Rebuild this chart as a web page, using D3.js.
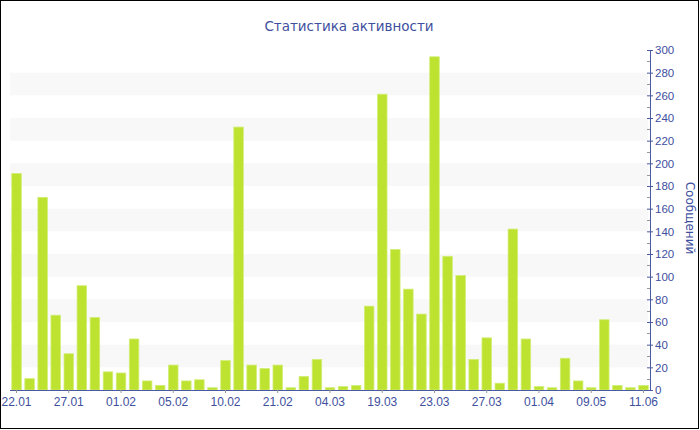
<!DOCTYPE html>
<html>
<head>
<meta charset="utf-8">
<script src="https://cdn.jsdelivr.net/npm/d3@7"></script>
<style>
  body { margin: 0; background: #fff; }
  svg { display: block; font-family: "DejaVu Sans", Verdana, sans-serif; }
</style>
</head>
<body>
<svg id="chart" width="700" height="430"></svg>
<script>
const title = "Статистика активности";
const yTitle = "Сообщений";
const values = [191, 10, 170, 66, 32, 92, 64, 16, 15, 45, 8, 4, 22, 8, 9, 2, 26, 232, 22, 19, 22, 2, 12, 27, 2, 3, 4, 74, 261, 124, 89, 67, 294, 118, 101, 27, 46, 6, 142, 45, 3, 2, 28, 8, 2, 62, 4, 2, 4];
const tickLabels = ["22.01", "27.01", "01.02", "05.02", "10.02", "21.02", "04.03", "19.03", "23.03", "27.03", "01.04", "09.05", "11.06"];
const yTicks = [0, 20, 40, 60, 80, 100, 120, 140, 160, 180, 200, 220, 240, 260, 280, 300];
const labelEvery = 4;

const textColor = "#3e4f9e";
const svg = d3.select("#chart");
const pLeft = 10, pRight = 650, pTop = 50, pBottom = 390;

const x = d3.scaleBand().domain(d3.range(values.length)).range([pLeft, pRight]).paddingInner(0.27).paddingOuter(0.135);
const y = d3.scaleLinear().domain([0, 300]).range([pBottom, pTop]);

// border
svg.append("rect").attr("x", 0.5).attr("y", 0.5).attr("width", 698).attr("height", 428)
  .attr("fill", "#fff").attr("stroke", "#000").attr("stroke-width", 1);

// alternating bands
const bands = [20, 60, 100, 140, 180, 220, 260];
svg.append("g").selectAll("rect").data(bands).join("rect")
  .attr("x", pLeft).attr("width", pRight - pLeft - 2)
  .attr("y", d => y(d + 20)).attr("height", d => y(d) - y(d + 20))
  .attr("fill", "#f8f8f8");

// bars
svg.append("g").selectAll("rect").data(values).join("rect")
  .attr("x", (d, i) => x(i)).attr("width", x.bandwidth())
  .attr("y", d => y(d)).attr("height", d => pBottom - y(d))
  .attr("fill", "#bde22f").attr("stroke", "#d2ee77").attr("stroke-width", 0.8);

// x axis
const tickIdx = tickLabels.map((t, i) => i * labelEvery);
const xAxis = d3.axisBottom(x).tickValues(tickIdx)
  .tickFormat((d) => tickLabels[d / labelEvery]).tickSize(3).tickPadding(4).tickSizeOuter(0);
const gx = svg.append("g").attr("transform", `translate(0,${pBottom})`).call(xAxis);
gx.select(".domain").attr("stroke", "#4a5aa0").attr("d", `M${pLeft},0.5H${pRight}`);
gx.selectAll(".tick line").attr("stroke", "#999");
gx.selectAll(".tick text").attr("fill", textColor).attr("font-size", "12px");

// y axis minor ticks
svg.append("g").selectAll("line").data(d3.range(10, 300, 20)).join("line")
  .attr("x1", pRight - 3).attr("x2", pRight).attr("y1", d => Math.round(y(d)) + 0.5).attr("y2", d => Math.round(y(d)) + 0.5)
  .attr("stroke", "#999");

const yAxis = d3.axisRight(y).tickValues(yTicks).tickSize(3).tickPadding(2).tickSizeOuter(0);
const gy = svg.append("g").attr("transform", `translate(${pRight},0)`).call(yAxis);
gy.select(".domain").attr("stroke", "#4a5aa0");
gy.selectAll(".tick line").attr("stroke", "#4a5aa0").attr("x1", -3);
gy.selectAll(".tick text").attr("fill", textColor).attr("font-size", "11.5px");

// title
svg.append("text").attr("x", 349).attr("y", 31).attr("text-anchor", "middle")
  .attr("fill", textColor).attr("font-size", "13.5px").text(title);

// y title
svg.append("text").attr("transform", `translate(686,218) rotate(90)`).attr("text-anchor", "middle")
  .attr("fill", textColor).attr("font-size", "12px").text(yTitle);
</script>
</body>
</html>
